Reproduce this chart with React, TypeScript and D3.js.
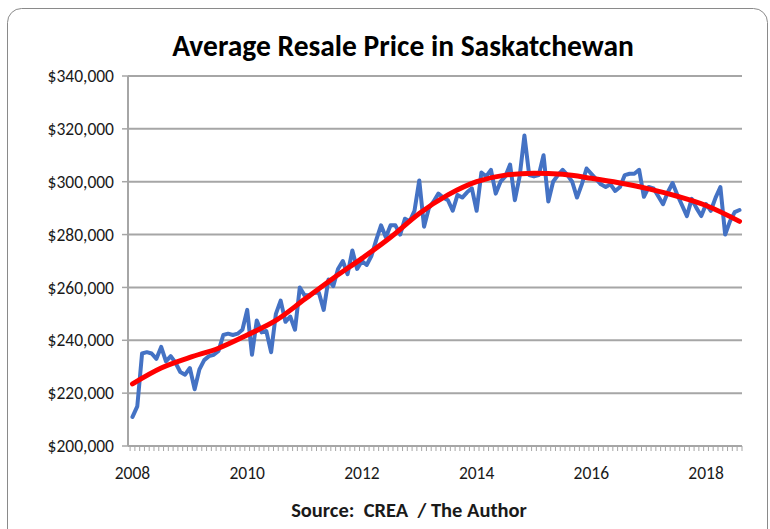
import React from "react";
import * as d3 from "d3";

// Monthly average resale price, Jan 2008 .. Aug 2018
const startYear = 2008;
const prices: number[] = [
  211000, 215000, 235000, 235500, 235000, 233000, 237500, 232000, 234000, 231500, 228000, 227000,
  229500, 221500, 229000, 232500, 234000, 234500, 236000, 242000, 242500, 242000, 242500, 244000,
  251500, 234500, 247500, 243000, 243500, 235500, 250000, 255000, 247000, 249000, 244000, 260000,
  257000, 257000, 258000, 258000, 251500, 263000, 260500, 267000, 270000, 265000, 274000, 267000,
  270000, 268500, 272000, 278000, 283500, 279000, 283500, 283500, 280000, 286000, 285000, 289000,
  300500, 283000, 290000, 292500, 295500, 294000, 293000, 289000, 295000, 294000, 296000, 297500,
  289000, 303500, 302000, 304500, 295500, 300000, 302000, 306500, 293000, 302000, 317500, 302500,
  302000, 302500, 310000, 292500, 300000, 302500, 304500, 302500, 300000, 294000, 299000, 305000,
  303000, 301000, 299000, 298000, 299000, 296500, 298000, 302500, 303000, 303000, 304500, 294300,
  298000, 297500, 294500, 291500, 296000, 299500, 295000, 291000, 287000, 293500, 290000, 287000,
  291500, 289000, 294000, 298000, 280000, 285000, 288500, 289300,
];

// Polynomial trend line (month index, value)
const trendMonths: number[] = [0, 6, 12, 18, 24, 30, 36, 42, 48, 54, 60, 66, 72, 78, 84, 90, 96, 102, 108, 114, 120, 127];
const trendValues: number[] = [
  223500, 229500, 233500, 237000, 242000, 247500, 255500, 263500, 271000, 279000, 288000, 295000,
  300000, 302500, 303200, 302800, 301300, 299500, 297300, 294500, 291000, 285000,
];

const yTicks: number[] = [200000, 220000, 240000, 260000, 280000, 300000, 320000, 340000];
const xTickLabels: string[] = ["2008", "2010", "2012", "2014", "2016", "2018"];

const title = "Average Resale Price in Saskatchewan";
const source = "Source:  CREA  / The Author";

export default function App() {
  const W = 770;
  const H = 529;
  const plotLeft = 128;
  const plotRight = 742;
  const plotTop = 76;
  const plotBottom = 446;

  const x = d3.scaleLinear().domain([0, prices.length - 1]).range([132.5, 739.5]);
  const y = d3.scaleLinear().domain([200000, 340000]).range([plotBottom, plotTop]);

  const line = d3
    .line<number>()
    .x((_, i) => x(i))
    .y((d) => y(d));

  const trend = d3
    .line<number>()
    .x((_, i) => x(trendMonths[i]))
    .y((d) => y(d))
    .curve(d3.curveMonotoneX);

  const fmt = d3.format("$,");
  const font = "Carlito, Calibri, 'Liberation Sans', Arial, sans-serif";

  return (
    <svg
      width={W}
      height={H}
      style={{ position: "fixed", left: 0, top: 0, background: "#fff" }}
      fontFamily={font}
    >
      <rect x={7.5} y={8.5} width={760} height={540} rx={14} fill="#fff" stroke="#8a8a8a" strokeWidth={1} />
      <text x={403} y={56} textAnchor="middle" fontSize={29.5} fontWeight="bold" fill="#000">
        {title}
      </text>

      {yTicks.map((t) => (
        <g key={t}>
          <line x1={plotLeft} x2={plotRight} y1={y(t)} y2={y(t)} stroke="#a6a6a6" strokeWidth={2} />
          <line x1={plotLeft - 6} x2={plotLeft} y1={y(t)} y2={y(t)} stroke="#a6a6a6" strokeWidth={1.5} />
          <text x={114} y={y(t)} dy="0.35em" textAnchor="end" fontSize={17.5} fill="#1a1a1a">
            {fmt(t)}
          </text>
        </g>
      ))}

      <line x1={plotLeft} x2={plotLeft} y1={plotTop} y2={plotBottom} stroke="#a6a6a6" strokeWidth={2} />

      {prices.map((_, i) => (
        <line
          key={i}
          x1={x(i) - 2.4}
          x2={x(i) - 2.4}
          y1={plotBottom}
          y2={plotBottom + 5}
          stroke="#a6a6a6"
          strokeWidth={1}
        />
      ))}
      <line x1={plotRight} x2={plotRight} y1={plotBottom} y2={plotBottom + 5} stroke="#a6a6a6" strokeWidth={1} />

      {xTickLabels.map((lab, k) => (
        <text key={lab} x={x(k * 24)} y={479} textAnchor="middle" fontSize={17.5} fill="#1a1a1a">
          {lab}
        </text>
      ))}

      <path d={line(prices) || ""} fill="none" stroke="#4472C4" strokeWidth={4} strokeLinejoin="round" strokeLinecap="round" />
      <path d={trend(trendValues) || ""} fill="none" stroke="#FF0000" strokeWidth={5} strokeLinecap="round" />

      <text x={409} y={517} textAnchor="middle" fontSize={20.5} fontWeight="bold" fill="#1a1a1a" style={{ whiteSpace: "pre" }}>
        {source}
      </text>
    </svg>
  );
}
